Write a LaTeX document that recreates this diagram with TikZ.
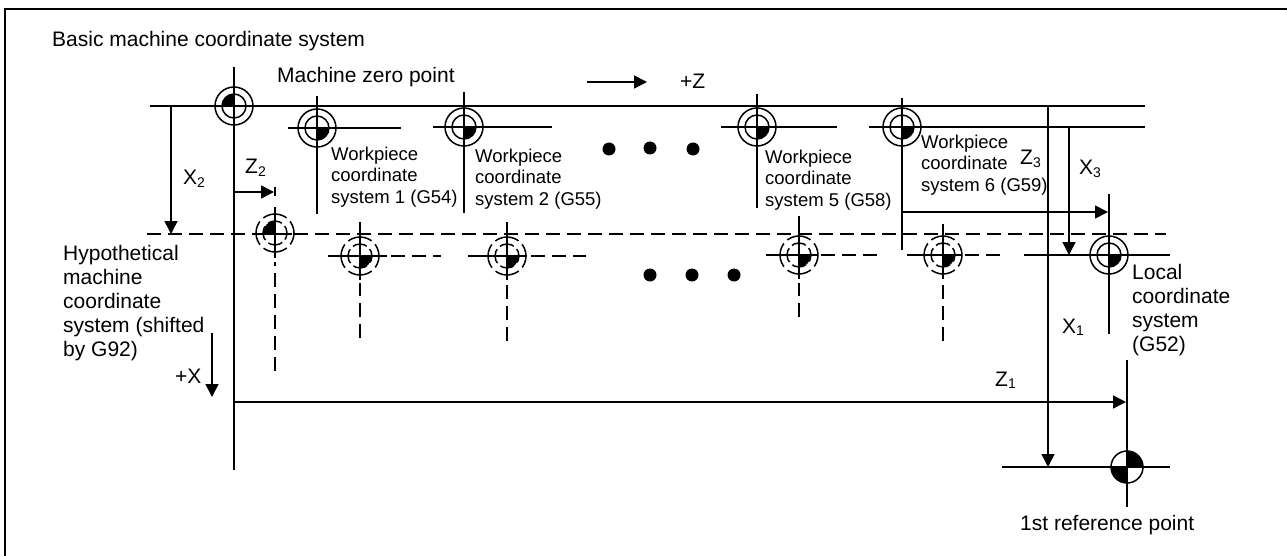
\documentclass[tikz,border=0pt]{standalone}
\usepackage{fontspec}
\setmainfont{Liberation Sans}
\usetikzlibrary{arrows.meta}
\tikzset{
  x=1pt,y=-1pt,
  ln/.style={line width=1.5pt,draw=black},
  dsh/.style={line width=1.5pt,draw=black,dash pattern=on 14pt off 7pt},
  arr/.style={ln,-{Triangle[length=13pt,width=13pt]}},
  lbl/.style={font=\fontsize{21}{24}\selectfont,inner sep=0pt,anchor=base west,align=left},
  tall/.style={font=\fontsize{21}{24}\selectfont,inner sep=0pt,anchor=north west,align=left},
  sm/.style={font=\fontsize{18.5}{21.5}\selectfont,inner sep=0pt,anchor=north west,align=left},
  big/.style={font=\fontsize{21}{22}\selectfont,inner sep=0pt,anchor=base west},
  dotn/.style={circle,fill=black,inner sep=0pt,minimum size=13pt}
}
\newcommand{\sysmark}[2]{%
  \fill[black] (#1) -- ++(#2:12pt) arc[start angle=#2,delta angle=90,radius=12pt] -- cycle;
  \draw[line width=1.5pt] (#1) circle[radius=12pt];
  \draw[line width=1.5pt] (#1) circle[radius=19pt];
}
\newcommand{\dashmark}[2]{%
  \fill[black] (#1) -- ++(#2:12pt) arc[start angle=#2,delta angle=90,radius=12pt] -- cycle;
  \draw[line width=1.5pt,dash pattern=on 14.85pt off 4pt,dash phase=7.4pt] (#1) circle[radius=12pt];
  \draw[line width=1.5pt,dash pattern=on 24.85pt off 5pt,dash phase=12.4pt] (#1) circle[radius=19pt];
}
\newcommand{\subl}[2]{#1\raisebox{-2.5pt}{\fontsize{14}{14}\selectfont #2}}
\begin{document}
\begin{tikzpicture}
\useasboundingbox (0,0) rectangle (1287,556);
\draw[line width=2pt] (5,556) -- (5,9) -- (1287,9);
% coordinates
\coordinate (O) at (234,106);
\coordinate (W1) at (317,128);
\coordinate (W2) at (464,127);
\coordinate (W5) at (757,127);
\coordinate (W6) at (902,127);
\coordinate (H0) at (275,233);
\coordinate (H1) at (360,256);
\coordinate (H2) at (507,256);
\coordinate (H5) at (799,255);
\coordinate (H6) at (943,255);
\coordinate (L) at (1109,255);
\coordinate (R) at (1127,467);
% solid datum lines
\draw[ln] (150,106) -- (1145,106);
\draw[ln] (234,67) -- (234,470);
\draw[ln] (288,128) -- (401,128);
\draw[ln] (317,96) -- (317,214);
\draw[ln] (433,127) -- (552,127);
\draw[ln] (464,92) -- (464,213);
\draw[ln] (721,127) -- (837,127);
\draw[ln] (757,94) -- (757,208);
\draw[ln] (869,127) -- (1145,127);
\draw[ln] (902,98) -- (902,250);
\draw[ln] (1024,255) -- (1170,255);
\draw[ln] (1109,194) -- (1109,334);
\draw[ln] (1127,360) -- (1127,507);
\draw[ln] (1002,467) -- (1170,467);
% dashed main line
\draw[dsh] (147,234) -- (1166,234);
\draw[ln] (258,234) -- (292,234);
% hypothetical G92 axes
\draw[ln] (275,187) -- (275,196);
\draw[ln] (275,207) -- (275,258);
\draw[dsh] (275,371) -- (275,262);
% dashed workpiece axes: solid through the mark, dashed beyond
\draw[ln] (328,256) -- (387,256);
\draw[dsh] (391,256) -- (441,256);
\draw[ln] (360,222) -- (360,280);
\draw[dsh] (360,338) -- (360,283);
\draw[ln] (468,256) -- (527,256);
\draw[dsh] (531,256) -- (586,256);
\draw[ln] (507,222) -- (507,280);
\draw[dsh] (507,341) -- (507,284);
\draw[ln] (766,255) -- (818,255);
\draw[dsh] (821,255) -- (884,255);
\draw[ln] (799,216) -- (799,279);
\draw[dsh] (799,317) -- (799,283);
\draw[ln] (907,255) -- (962,255);
\draw[dsh] (965,255) -- (1000,255);
\draw[ln] (943,224) -- (943,279);
\draw[dsh] (943,341) -- (943,284);
% marks
\sysmark{O}{90}
\sysmark{W1}{270}
\sysmark{W2}{270}
\sysmark{W5}{270}
\sysmark{W6}{270}
\sysmark{L}{270}
\dashmark{H0}{90}
\dashmark{H1}{270}
\dashmark{H2}{270}
\dashmark{H5}{270}
\dashmark{H6}{270}
\fill (R) -- ++(90:16pt) arc[start angle=90,delta angle=-90,radius=16pt] -- cycle;
\fill (R) -- ++(270:16pt) arc[start angle=270,delta angle=-90,radius=16pt] -- cycle;
\draw[line width=1.5pt] (R) circle[radius=16pt];
% dimension arrows
\coordinate (X2a) at (171,106); \coordinate (X2b) at (171,234);
\draw[arr] (X2a) -- (X2b);
\coordinate (Z2a) at (234,192); \coordinate (Z2b) at (274,192);
\draw[arr] (Z2a) -- (Z2b);
\coordinate (Z3a) at (902,212); \coordinate (Z3b) at (1108,212);
\draw[arr] (Z3a) -- (Z3b);
\coordinate (X3a) at (1069,127); \coordinate (X3b) at (1069,255);
\draw[arr] (X3a) -- (X3b);
\coordinate (X1a) at (1048,106); \coordinate (X1b) at (1048,467);
\draw[arr] (X1a) -- (X1b);
\coordinate (Z1a) at (234,402); \coordinate (Z1b) at (1126,402);
\draw[arr] (Z1a) -- (Z1b);
\coordinate (PZa) at (587,82); \coordinate (PZb) at (647,82);
\draw[arr] (PZa) -- (PZb);
\coordinate (PXa) at (212,333); \coordinate (PXb) at (212,397);
\draw[arr] (PXa) -- (PXb);
% dots
\node[dotn] (d1) at (609,149) {};
\node[dotn] (d2) at (650,148) {};
\node[dotn] (d3) at (693,149) {};
\node[dotn] (d4) at (650,275) {};
\node[dotn] (d5) at (692,275) {};
\node[dotn] (d6) at (734,275) {};
% labels
\node[lbl] (t1) at (52,47) {Basic machine coordinate system};
\node[lbl] (t2) at (277,83) {Machine zero point};
\node[big] (t3) at (680,89) {+Z};
\node[sm] (w1) at (331,146.5) {Workpiece\\coordinate\\system 1 (G54)};
\node[sm] (w2) at (475,148.5) {Workpiece\\coordinate\\system 2 (G55)};
\node[sm] (w5) at (765,149.5) {Workpiece\\coordinate\\system 5 (G58)};
\node[sm] (w6) at (921,134.5) {Workpiece\\coordinate\\system 6 (G59)};
\node[tall] (hy) at (63,245.5) {Hypothetical\\machine\\coordinate\\system (shifted\\by G92)};
\node[tall] (lo) at (1132,264) {Local\\coordinate\\system\\(G52)};
\node[lbl] (rp) at (1020,530) {1st reference point};
\node[big] (px) at (175,383) {+X};
\node[big] (lx2) at (183,185) {\subl{X}{2}};
\node[big] (lz2) at (245,174) {\subl{Z}{2}};
\node[big] (lz3) at (1020,165) {\subl{Z}{3}};
\node[big] (lx3) at (1079,175) {\subl{X}{3}};
\node[big] (lx1) at (1062,333) {\subl{X}{1}};
\node[big] (lz1) at (995,386) {\subl{Z}{1}};
\end{tikzpicture}
\end{document}
